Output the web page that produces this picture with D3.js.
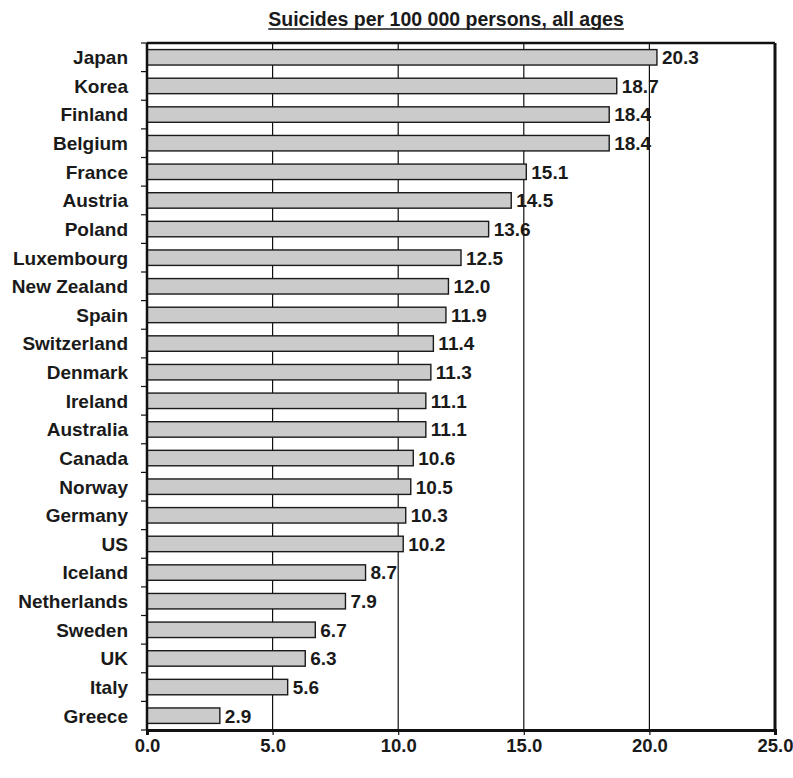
<!DOCTYPE html>
<html>
<head>
<meta charset="utf-8">
<script src="https://cdn.jsdelivr.net/npm/d3@7/dist/d3.min.js"></script>
<style>
  html, body { margin: 0; padding: 0; background: #fff; }
  svg { display: block; }
  text { font-family: "Liberation Sans", Arial, sans-serif; font-weight: bold; fill: #1a1a1a; }
</style>
</head>
<body>
<svg id="chart" width="793" height="778"></svg>
<script>
// Suicide rates by country (per 100 000 persons, all ages)
const countries = ["Japan", "Korea", "Finland", "Belgium", "France", "Austria", "Poland",
  "Luxembourg", "New Zealand", "Spain", "Switzerland", "Denmark", "Ireland", "Australia",
  "Canada", "Norway", "Germany", "US", "Iceland", "Netherlands", "Sweden", "UK", "Italy", "Greece"];
const rates = [20.3, 18.7, 18.4, 18.4, 15.1, 14.5, 13.6, 12.5, 12.0, 11.9, 11.4, 11.3,
  11.1, 11.1, 10.6, 10.5, 10.3, 10.2, 8.7, 7.9, 6.7, 6.3, 5.6, 2.9];
const xTicks = [0, 5, 10, 15, 20, 25];
const titleText = "Suicides per 100 000 persons, all ages";

const data = countries.map((c, i) => ({ country: c, value: rates[i] }));

const svg = d3.select("#chart");
const margin = { top: 43, right: 18, bottom: 48, left: 147 };
const W = 793, H = 778;
const innerW = W - margin.left - margin.right;
const innerH = H - margin.top - margin.bottom;
const fs = "19px";

const x = d3.scaleLinear().domain([0, 25]).range([0, innerW]);
const y = d3.scaleBand().domain(countries).range([0, innerH]).paddingInner(0.46).paddingOuter(0.23);

const g = svg.append("g").attr("transform", `translate(${margin.left},${margin.top})`);

// Title, underlined
const title = svg.append("text")
  .attr("x", 446).attr("y", 26)
  .attr("text-anchor", "middle")
  .style("font-size", "19.5px")
  .text(titleText);
const tb = title.node().getBBox();
svg.append("line")
  .attr("x1", tb.x).attr("x2", tb.x + tb.width)
  .attr("y1", 29).attr("y2", 29)
  .attr("stroke", "#1a1a1a").attr("stroke-width", 1.5);

// Vertical gridlines
g.selectAll("line.grid")
  .data(xTicks.filter(t => t > 0 && t < 25))
  .join("line")
  .attr("class", "grid")
  .attr("x1", d => x(d)).attr("x2", d => x(d))
  .attr("y1", 0).attr("y2", innerH)
  .attr("stroke", "#111").attr("stroke-width", 1.2);

// Bars
g.selectAll("rect.bar")
  .data(data)
  .join("rect")
  .attr("class", "bar")
  .attr("x", 0)
  .attr("y", d => y(d.country))
  .attr("width", d => x(d.value))
  .attr("height", y.bandwidth())
  .attr("fill", "#cbcbcb")
  .attr("stroke", "#1a1a1a").attr("stroke-width", 1.4);

// Value labels
g.selectAll("text.val")
  .data(data)
  .join("text")
  .attr("class", "val")
  .attr("x", d => x(d.value) + 5)
  .attr("y", d => y(d.country) + y.bandwidth() / 2)
  .attr("dy", "0.36em")
  .style("font-size", fs)
  .text(d => d.value.toFixed(1));

// Plot frame (top and right heavier)
g.append("line").attr("x1", 0).attr("x2", innerW).attr("y1", 0).attr("y2", 0)
  .attr("stroke", "#111").attr("stroke-width", 2.5);
g.append("line").attr("x1", innerW).attr("x2", innerW).attr("y1", 0).attr("y2", innerH)
  .attr("stroke", "#111").attr("stroke-width", 3);

// Y axis: ticks between categories
const yAxis = g.append("g");
yAxis.append("line").attr("x1", 0).attr("x2", 0).attr("y1", 0).attr("y2", innerH)
  .attr("stroke", "#111").attr("stroke-width", 2.5);
const boundaries = d3.range(countries.length + 1).map(i => i * innerH / countries.length);
yAxis.selectAll("line.tk").data(boundaries).join("line")
  .attr("class", "tk")
  .attr("x1", -6).attr("x2", 0)
  .attr("y1", d => d).attr("y2", d => d)
  .attr("stroke", "#111").attr("stroke-width", 1.2);
yAxis.selectAll("text.cat").data(countries).join("text")
  .attr("class", "cat")
  .attr("x", -19)
  .attr("y", d => y(d) + y.bandwidth() / 2)
  .attr("dy", "0.36em")
  .attr("text-anchor", "end")
  .style("font-size", fs)
  .text(d => d);

// X axis
const xAxis = g.append("g").attr("transform", `translate(0,${innerH})`)
  .call(d3.axisBottom(x).tickValues(xTicks).tickFormat(d3.format(".1f")).tickSize(5).tickPadding(4));
xAxis.select(".domain").attr("stroke", "#111").attr("stroke-width", 3);
xAxis.selectAll(".tick line").attr("stroke", "#111").attr("stroke-width", 1.2);
xAxis.selectAll(".tick text")
  .style("font-size", "18.5px")
  .style("font-family", "'Liberation Sans', Arial, sans-serif")
  .style("font-weight", "bold")
  .attr("fill", "#1a1a1a");
</script>
</body>
</html>
